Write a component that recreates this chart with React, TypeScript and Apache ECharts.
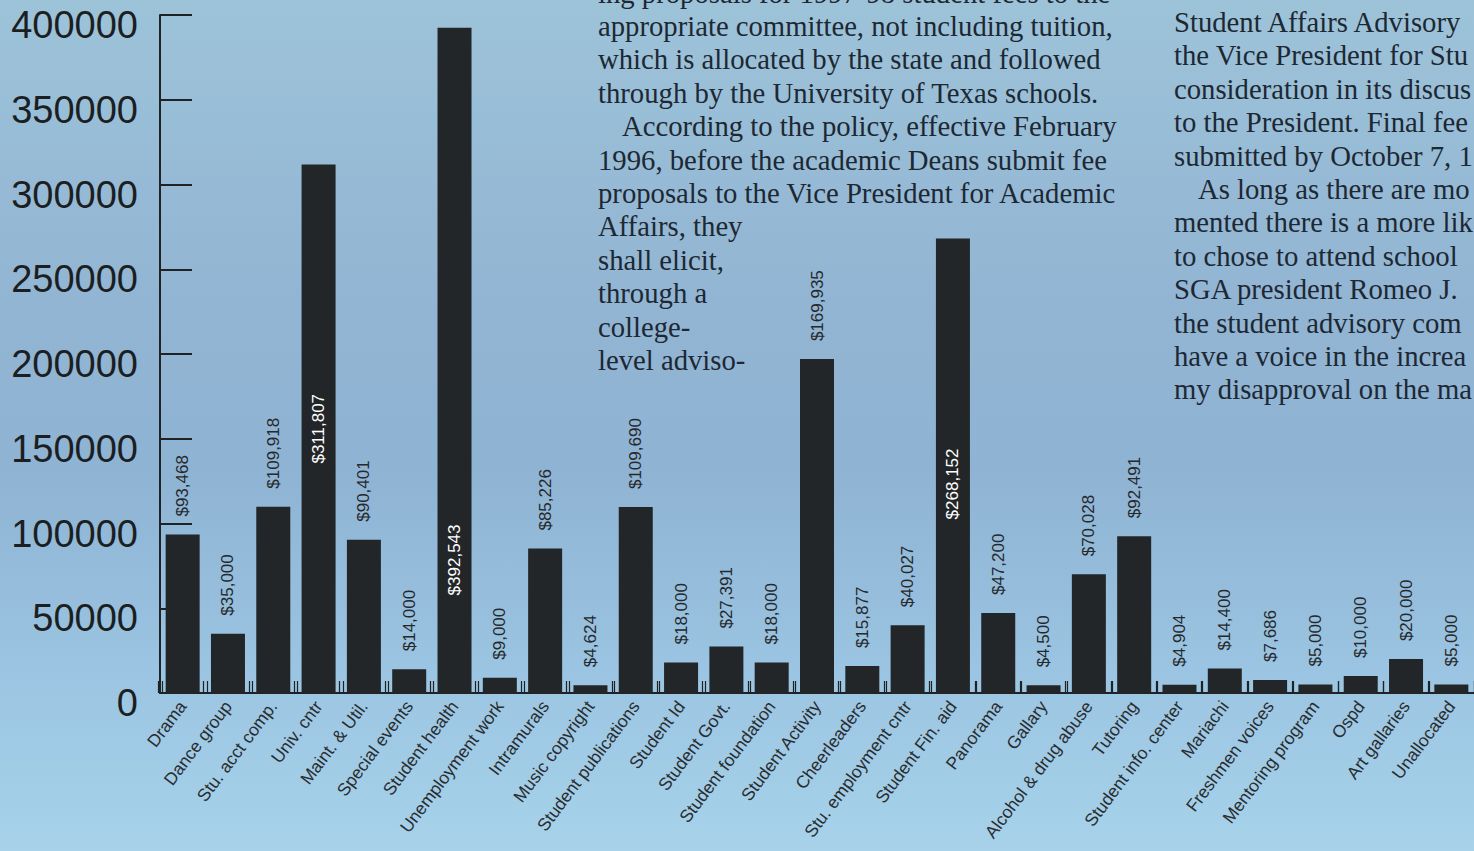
import React, { useEffect, useRef } from "react";
import * as echarts from "echarts";

// ---- Data ----
const categories = [
  "Drama", "Dance group", "Stu. acct comp.", "Univ. cntr", "Maint. & Util.",
  "Special events", "Student health", "Unemployment work", "Intramurals",
  "Music copyright", "Student publications", "Student Id", "Student Govt.",
  "Student foundation", "Student Activity", "Cheerleaders", "Stu. employment cntr",
  "Student Fin. aid", "Panorama", "Gallary", "Alcohol & drug abuse", "Tutoring",
  "Student info. center", "Mariachi", "Freshmen voices", "Mentoring program",
  "Ospd", "Art gallaries", "Unallocated",
];

// Dollar amounts printed on the bars
const amounts = [
  93468, 35000, 109918, 311807, 90401, 14000, 392543, 9000, 85226, 4624,
  109690, 18000, 27391, 18000, 169935, 15877, 40027, 268152, 47200, 4500,
  70028, 92491, 4904, 14400, 7686, 5000, 10000, 20000, 5000,
];

// Bar heights as drawn (the "Student Activity" bar is drawn near 197,000)
const barHeights = [
  93468, 35000, 109918, 311807, 90401, 14000, 392543, 9000, 85226, 4624,
  109690, 18000, 27391, 18000, 197000, 15877, 40027, 268152, 47200, 4500,
  70028, 92491, 4904, 14400, 7686, 5000, 10000, 20000, 5000,
];

const yMin = 0;
const yMax = 400000;
const yStep = 50000;

// Background article text (scanned page)
const middleColumn = [
  "ing proposals for 1997-98 student fees to the",
  "appropriate committee, not including tuition,",
  "which is allocated by the state and followed",
  "through by the University of Texas schools.",
  "According to the policy, effective February",
  "1996, before the academic Deans submit fee",
  "proposals to the Vice President for Academic",
  "Affairs, they",
  "shall elicit,",
  "through a",
  "college-",
  "level adviso-",
];
const rightColumn = [
  "Student Affairs Advisory",
  "the Vice President for Stu",
  "consideration in its discus",
  "to the President. Final fee",
  "submitted by October 7, 1",
  "As long as there are mo",
  "mented there is a more lik",
  "to chose to attend school",
  "SGA president Romeo J.",
  "the student advisory com",
  "have a voice in the increa",
  "my disapproval on the ma",
];

// ---- Styling ----
const SANS = "'Liberation Sans', Arial, Helvetica, sans-serif";
const SERIF = "'Liberation Serif', 'Times New Roman', serif";
const INK = "#1f2326";
const BAR = "#232628";

// labels drawn inside the tallest bars (fraction from bar top)
const insideLabelSpot: Record<number, string> = { 3: "50%", 6: "80%", 17: "54%" };

const fmt = (v: number) => "$" + v.toLocaleString("en-US");

export default function App() {
  const ref = useRef<HTMLDivElement | null>(null);

  useEffect(() => {
    if (!ref.current) return;
    const chart = echarts.init(ref.current, null, { renderer: "svg" });

    const lineH = 33.4;
    const textFont = `28.7px ${SERIF}`;
    const graphicTexts: any[] = [];
    middleColumn.forEach((t, i) => {
      graphicTexts.push({
        type: "text",
        x: i === 4 ? 622 : 598,
        y: -7.5 + i * lineH,
        silent: true,
        style: { text: t, font: textFont, fill: "#1d2833", verticalAlign: "middle" },
      });
    });
    rightColumn.forEach((t, i) => {
      graphicTexts.push({
        type: "text",
        x: i === 5 ? 1198 : 1174,
        y: 22 + i * lineH,
        silent: true,
        style: { text: t, font: textFont, fill: "#1d2833", verticalAlign: "middle" },
      });
    });

    const data = barHeights.map((h, i) => {
      const spot = insideLabelSpot[i];
      if (spot) {
        return {
          value: h,
          label: {
            position: ["50%", spot],
            rotate: 90,
            align: "center",
            verticalAlign: "middle",
            color: "#ffffff",
          },
        };
      }
      return { value: h };
    });

    const gridBox = { top: 15, width: 1320, height: 678 };
    // extra grids only carry the doubled tick marks between bars
    const tickGrids = [158, 162];

    chart.setOption({
      animation: false,
      backgroundColor: "transparent",
      graphic: graphicTexts,
      grid: [
        { left: 160, ...gridBox },
        ...tickGrids.map((l) => ({ left: l, ...gridBox })),
      ],
      xAxis: [
        {
          type: "category",
          gridIndex: 0,
          data: categories,
          boundaryGap: true,
          axisLine: { show: true, lineStyle: { color: INK, width: 2 } },
          axisTick: { show: false },
          axisLabel: {
            interval: 0,
            rotate: 53,
            margin: 10,
            fontFamily: SANS,
            fontSize: 17.5,
            color: "#2a2d30",
          },
          splitLine: { show: false },
        },
        ...tickGrids.map((_, k) => ({
          type: "category",
          gridIndex: k + 1,
          data: categories,
          boundaryGap: true,
          axisLine: { show: false },
          axisTick: {
            show: true,
            interval: 0,
            inside: true,
            length: 12,
            lineStyle: { color: INK, width: 1.2 },
          },
          axisLabel: { show: false, interval: 0 },
          splitLine: { show: false },
        })),
      ],
      yAxis: [
        {
          type: "value",
          gridIndex: 0,
          min: yMin,
          max: yMax,
          interval: yStep,
          axisLine: { show: true, lineStyle: { color: INK, width: 2 } },
          axisTick: { show: true, inside: true, length: 32, lineStyle: { color: INK, width: 2 } },
          axisLabel: {
            fontFamily: SANS,
            fontSize: 38,
            color: "#1c1f22",
            margin: 22,
            verticalAlign: "top",
            lineHeight: 20,
            formatter: (v: number) => String(v),
          },
          splitLine: { show: false },
        },
        ...tickGrids.map((_, k) => ({
          type: "value",
          gridIndex: k + 1,
          min: yMin,
          max: yMax,
          show: false,
        })),
      ],
      series: [
        {
          type: "bar",
          xAxisIndex: 0,
          yAxisIndex: 0,
          data,
          barWidth: 34,
          z: 3,
          itemStyle: { color: BAR },
          label: {
            show: true,
            position: "top",
            distance: 18,
            rotate: 90,
            align: "left",
            verticalAlign: "middle",
            fontFamily: SANS,
            fontSize: 17,
            color: "#26292c",
            formatter: (p: any) => fmt(amounts[p.dataIndex]),
          },
        },
      ],
    });

    return () => chart.dispose();
  }, []);

  return (
    <div
      style={{
        position: "fixed",
        left: 0,
        top: 0,
        width: 1474,
        height: 851,
        overflow: "hidden",
        background:
          "linear-gradient(180deg, #9dc3d9 0%, #92b5d3 35%, #8fb3d3 55%, #9ac4e1 78%, #a7d2ea 100%)",
      }}
    >
      <div ref={ref} style={{ width: 1474, height: 851 }} />
    </div>
  );
}
